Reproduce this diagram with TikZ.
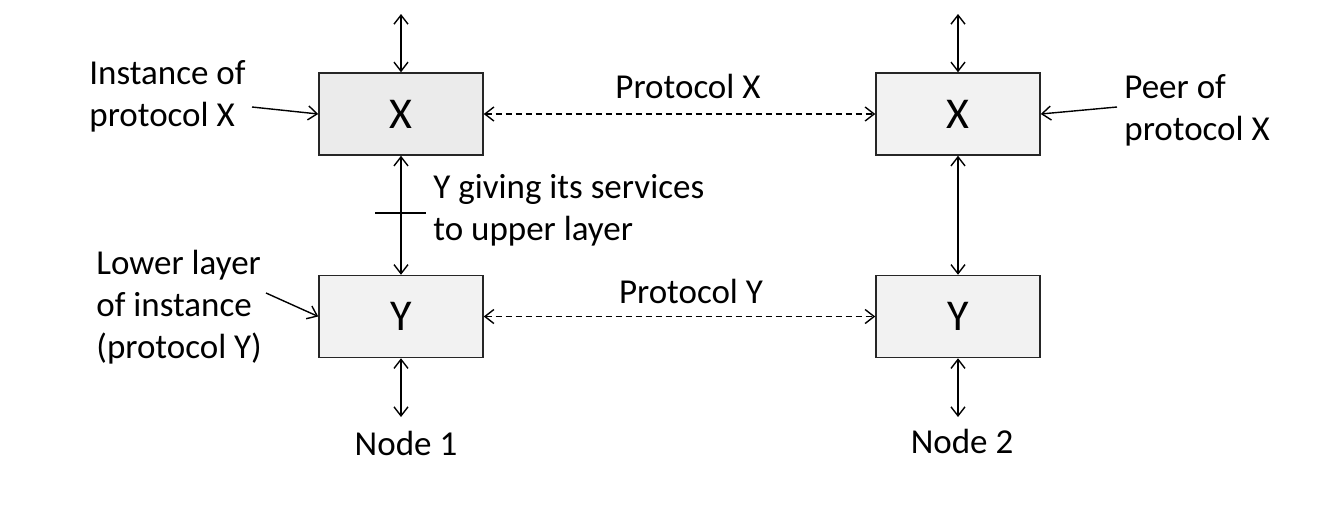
\documentclass[tikz,border=0pt]{standalone}
\usepackage{fontspec}
\setmainfont{Carlito}
\usetikzlibrary{arrows.meta}
\begin{document}
\begin{tikzpicture}[x=0.5pt,y=-0.5pt,
  layerbox/.style={draw=black!85,line width=0.75pt,minimum width=82pt,minimum height=41pt,inner sep=0pt,font=\fontsize{22}{26}\selectfont},
  lbl/.style={inner sep=0pt,align=left,font=\fontsize{17.5}{21}\selectfont},
  conn/.style={line width=0.7pt,-{Straight Barb[length=4.5pt,width=7pt]}},
  biconn/.style={line width=0.7pt,{Straight Barb[length=4.5pt,width=7pt]}-{Straight Barb[length=4.5pt,width=7pt]}},
  dashconn/.style={biconn,dash pattern=on 3pt off 2pt}]
\useasboundingbox[fill=white] (0,0) rectangle (1335,515);
\node[layerbox,fill=black!8] (X1) at (401,114) {X};
\node[layerbox,fill=black!5] (Y1) at (401,316.5) {Y};
\node[layerbox,fill=black!5] (X2) at (958,114) {X};
\node[layerbox,fill=black!5] (Y2) at (958,316.5) {Y};
\coordinate (t1) at (401,14);
\coordinate (t2) at (958,14);
\node[lbl,anchor=north] (n1) at (406,431) {Node 1};
\node[lbl,anchor=north] (n2) at (962,429) {Node 2};
\node[lbl,anchor=south] (px) at (688,99) {Protocol X};
\node[lbl,anchor=south] (py) at (691,304) {Protocol Y};
\node[lbl,anchor=west] (inst) at (89,96) {Instance of\\protocol X};
\node[lbl,anchor=west] (peer) at (1124,110) {Peer of\\protocol X};
\node[lbl,anchor=west] (yg) at (433,210) {Y giving its services\\to upper layer};
\node[lbl,anchor=west] (low) at (96,307) {Lower layer\\of instance\\(protocol Y)};
\coordinate (ia) at (252,107);
\coordinate (pa) at (1117,107);
\coordinate (la) at (266,293);
\coordinate (b1) at (401,417);
\coordinate (b2) at (958,417);
\draw[biconn] (t1) -- (X1.north);
\draw[biconn] (t2) -- (X2.north);
\draw[biconn] (X1.south) -- (Y1.north);
\draw[biconn] (X2.south) -- (Y2.north);
\draw[biconn] (Y1.south) -- (b1);
\draw[biconn] (Y2.south) -- (b2);
\draw[line width=0.7pt] (375,213) -- (426,213);
\draw[dashconn] (X1.east) -- (X2.west);
\draw[dashconn] (Y1.east) -- (Y2.west);
\draw[conn] (ia) -- (X1.west);
\draw[conn] (pa) -- (X2.east);
\draw[conn] (la) -- (Y1.west);
\end{tikzpicture}
\end{document}
